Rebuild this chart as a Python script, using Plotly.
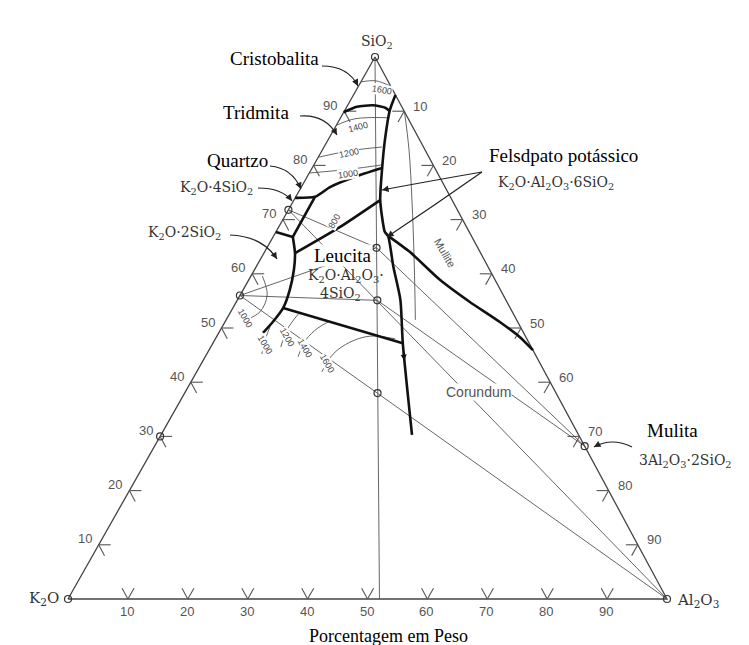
import plotly.graph_objects as go

W, H = 749, 645

# Pixel anchors of the triangle corners (K2O left, Al2O3 right, SiO2 apex)
LEFT_PX, RIGHT_PX, BASE_PX, APEX_PX, APEX_X_PX = 68, 667, 599, 57, 375
UX = (RIGHT_PX - LEFT_PX) / 100.0          # px per wt% along the base
UY = (BASE_PX - APEX_PX) / 100.0           # px per wt% SiO2 (height)
SKEW = (APEX_X_PX - LEFT_PX) / (RIGHT_PX - LEFT_PX)

# ---------------- data: compositions in wt % (SiO2, Al2O3) ----------------
POINT_SIO2 = [100, 0, 0, 71.8, 56.0, 30.0, 64.8, 55.1, 38.0, 28.2]
POINT_AL2O3 = [0, 0, 100, 0, 0, 0, 18.3, 23.4, 32.2, 71.8]

# liquidus field boundaries (heavy lines)
CRISTOBALITE_TRIDYMITE = [(89.8, 0), (90.8, 1.7), (91.1, 4.2), (90.6, 6.6), (90.0, 7.6)]
SILICA_MULLITE_LEUCITE = [(93.0, 7.0), (90.2, 7.5), (84.7, 9.5), (79.5, 11.7), (73.6, 14.4),
                          (67.7, 18.2), (67.0, 19.1), (61.3, 22.9), (55.2, 27.2),
                          (47.2, 31.7), (30.3, 41.9)]
QUARTZ_LIMIT = [(74.0, 0), (74.2, 3.2), (76.0, 4.8), (77.9, 8.0), (79.5, 11.7)]
K4_K2 = [(67.7, 0), (66.8, 3.3)]
K4_FELDSPAR = [(66.8, 3.3), (74.2, 3.2)]
K2_LEUCITE = [(66.8, 3.3), (63.8, 5.2), (60.7, 6.6), (57.0, 7.8), (53.7, 8.4),
              (51.1, 8.0), (49.1, 7.4)]
FELDSPAR_LEUCITE = [(63.8, 5.2), (68.6, 10.2), (73.6, 14.4)]
LEUCITE_KALIOPHILITE = [(53.7, 8.4), (47.2, 31.7)]
MULLITE_CORUNDUM = [(67.0, 19.1), (64.0, 24.3), (58.9, 31.9), (54.8, 39.0),
                    (51.1, 45.9), (48.3, 50.7), (45.9, 54.1)]
BOUNDARIES = [CRISTOBALITE_TRIDYMITE, SILICA_MULLITE_LEUCITE, QUARTZ_LIMIT, K4_K2,
              K4_FELDSPAR, K2_LEUCITE, FELDSPAR_LEUCITE, LEUCITE_KALIOPHILITE,
              MULLITE_CORUNDUM]

# falling-temperature arrow on a boundary: (tip, tail) compositions
BOUNDARY_ARROWS = [((44.0, 33.6), (45.8, 32.5))]

# composition joins (light lines)
JOINS = [
    [(100, 0), (0, 52.0)],          # SiO2 - K2O.Al2O3
    [(71.8, 0), (0, 100)],          # K2O.4SiO2 - Al2O3
    [(56.0, 0), (0, 100)],          # K2O.2SiO2 - Al2O3
    [(56.0, 0), (55.1, 23.4)],      # K2O.2SiO2 - leucite
    [(56.0, 0), (64.8, 18.3)],      # K2O.2SiO2 - K-feldspar
    [(71.8, 0), (64.8, 18.3)],      # K2O.4SiO2 - K-feldspar
    [(64.8, 18.3), (28.2, 71.8)],   # K-feldspar - mullite
    [(55.1, 23.4), (28.2, 71.8)],   # leucite - mullite
]

# isotherms (light lines)
ISOTHERMS = [
    [(95.4, 0), (95.6, 2.4), (94.6, 5.4)],
    [(87.4, 0), (88.6, 2.5), (88.8, 7.9)],
    [(81.5, 0), (82.7, 4.7), (83.4, 9.7)],
    [(78.6, 0), (79.3, 6.4), (80.1, 11.4)],
    [(89.9, 10.1), (82.8, 14.5), (73.6, 19.7), (62.6, 25.7), (51.5, 31.6)],
    [(59.6, 1.9), (56.1, 4.5), (53.0, 4.9), (51.5, 3.3)],
    [(45.2, 9.2), (48.3, 8.3), (50.2, 8.0)],
    [(46.5, 11.7), (49.6, 11.1), (52.6, 11.5)],
    [(44.7, 15.5), (47.8, 15.2), (50.0, 16.1), (51.1, 17.2)],
    [(41.9, 20.9), (45.2, 21.1), (47.4, 22.8), (48.5, 25.6), (48.0, 30.0)],
]
ISO_LABELS = ["1600", "1400", "1200", "1000", "800", "1000", "1000", "1200", "1400", "1600"]
ISO_LABEL_SIO2 = [94.0, 87.1, 82.3, 78.4, 69.7, 51.8, 46.9, 48.3, 46.3, 43.5]
ISO_LABEL_AL2O3 = [4.3, 3.8, 4.8, 6.6, 8.8, 3.0, 8.9, 11.8, 15.8, 20.9]
ISO_LABEL_ANGLE = [10, -15, -12, -8, -60, 60, 60, 60, 60, 60]

TICK_VALUES = [10, 20, 30, 40, 50, 60, 70, 80, 90]
TICK_LABELS = ["10", "20", "30", "40", "50", "60", "70", "80", "90"]
TICK_LEN = 2.0


def to_xy(pairs):
    xs, ys = [], []
    for p in pairs:
        if p is None:
            xs.append(None)
            ys.append(None)
        else:
            s, a = p
            xs.append(a + SKEW * s)
            ys.append(s)
    return xs, ys


def chain(list_of_lines):
    out = []
    for ln in list_of_lines:
        out.extend(ln)
        out.append(None)
    return out


def paper(px, py):
    return px / W, 1 - py / H


fig = go.Figure()

# triangle frame
fx, fy = to_xy([(0, 0), (0, 100), (100, 0), (0, 0)])
fig.add_trace(go.Scatter(x=fx, y=fy, mode="lines", line=dict(color="#444", width=1.3),
                         hoverinfo="skip"))

# ticks on the three sides
tick_segs = []
for t in TICK_VALUES:
    tick_segs += [(t, 0), (t, TICK_LEN), None, (t, 0), (t - TICK_LEN, TICK_LEN), None]
    s = 100 - t
    tick_segs += [(s, t), (s, t - TICK_LEN), None, (s, t), (s - TICK_LEN, t), None]
    tick_segs += [(0, t), (TICK_LEN, t), None, (0, t), (TICK_LEN, t - TICK_LEN), None]
tx, ty = to_xy(tick_segs)
fig.add_trace(go.Scatter(x=tx, y=ty, mode="lines", line=dict(color="#555", width=1.1),
                         hoverinfo="skip"))

# joins and isotherms
jx, jy = to_xy(chain(JOINS))
fig.add_trace(go.Scatter(x=jx, y=jy, mode="lines", line=dict(color="#555", width=0.9),
                         hoverinfo="skip"))
for iso in ISOTHERMS:
    ix, iy = to_xy(iso)
    fig.add_trace(go.Scatter(x=ix, y=iy, mode="lines", line=dict(color="#555", width=0.9,
                             shape="spline"), hoverinfo="skip"))

# field boundaries
for b in BOUNDARIES:
    bx, by = to_xy(b)
    fig.add_trace(go.Scatter(x=bx, y=by, mode="lines", line=dict(color="#111", width=2.6,
                             shape="spline", smoothing=0.6), hoverinfo="skip"))

# compound points
px_, py_ = to_xy(list(zip(POINT_SIO2, POINT_AL2O3)))
fig.add_trace(go.Scatter(x=px_, y=py_, mode="markers",
                         marker=dict(symbol="circle-open", size=7, color="#333",
                                     line=dict(width=1.2)), hoverinfo="skip"))

ann = []
SANS = "Liberation Sans"
SERIF = "Liberation Serif"
FORMULA = "DejaVu Serif"
# tick labels
for t, lab in zip(TICK_VALUES, TICK_LABELS):
    for (s, a), xs, ys in (((t, 0), -14, 6), ((100 - t, t), 16, 5), ((0, t), -1, -12)):
        x, y = to_xy([(s, a)])
        ann.append(dict(x=x[0], y=y[0], text=lab, showarrow=False, xshift=xs, yshift=ys,
                        xanchor="center", yanchor="middle",
                        font=dict(family=SANS, size=13, color="#555")))

# isotherm temperature labels
for lab, s, a, ang in zip(ISO_LABELS, ISO_LABEL_SIO2, ISO_LABEL_AL2O3, ISO_LABEL_ANGLE):
    x, y = to_xy([(s, a)])
    ann.append(dict(x=x[0], y=y[0], text=lab, showarrow=False, textangle=ang,
                    bgcolor="white", borderpad=0, xanchor="center", yanchor="middle",
                    font=dict(family=SANS, size=9, color="#444")))

# arrowheads on boundaries
for tip, tail in BOUNDARY_ARROWS:
    (x1,), (y1,) = to_xy([tip])
    (x0,), (y0,) = to_xy([tail])
    ann.append(dict(x=x1, y=y1, ax=x0, ay=y0, axref="x", ayref="y", text="",
                    showarrow=True, arrowhead=2, arrowsize=0.8, arrowwidth=1.5,
                    arrowcolor="#111"))


def label(px, py, text, size=19, color="#000", bg=None, family=SERIF, angle=0):
    x, y = paper(px, py)
    d = dict(x=x, y=y, xref="paper", yref="paper", text=text, showarrow=False,
             xanchor="center", yanchor="middle", textangle=angle,
             font=dict(family=family, size=size, color=color))
    if bg:
        d.update(bgcolor=bg, borderpad=0)
    ann.append(d)


label(274, 58, "Cristobalita")
label(256, 113, "Tridmita")
label(237, 160, "Quartzo")
label(216, 188, "K<sub>2</sub>O·4SiO<sub>2</sub>", size=14, color="#333", family=FORMULA)
label(184, 233, "K<sub>2</sub>O·2SiO<sub>2</sub>", size=14, color="#333", family=FORMULA)
label(563, 155, "Felsdpato potássico")
label(556, 183, "K<sub>2</sub>O·Al<sub>2</sub>O<sub>3</sub>·6SiO<sub>2</sub>", size=14,
      color="#333", family=FORMULA)
label(343, 255, "Leucita", bg="white")
label(346, 276, "K<sub>2</sub>O·Al<sub>2</sub>O<sub>3</sub>·", size=14, color="#333",
      family=FORMULA)
label(340, 294, "4SiO<sub>2</sub>", size=14, color="#333", family=FORMULA)
label(672, 430, "Mulita", bg="white")
label(685, 461, "3Al<sub>2</sub>O<sub>3</sub>·2SiO<sub>2</sub>", size=14, color="#333",
      family=FORMULA)
label(478, 392, "Corundum", size=14, color="#555", bg="white", family=SANS)
label(445, 253, "Mullite", size=11, color="#555", family=SANS, angle=60)
label(377, 42, "SiO<sub>2</sub>", size=14, color="#333", family=FORMULA)
label(44, 598, "K<sub>2</sub>O", size=15, color="#333", family=FORMULA)
label(698, 600, "Al<sub>2</sub>O<sub>3</sub>", size=15, color="#333", family=FORMULA)
label(388, 636, "Porcentagem em Peso", size=18)

# curved pointer arrows (start, control, end in px)
ARROWS = [
    ((322, 66), (348, 66), (358, 86)),
    ((300, 116), (325, 114), (337, 135)),
    ((270, 166), (292, 168), (301, 189)),
    ((258, 188), (282, 188), (292, 201)),
    ((230, 235), (262, 236), (277, 259)),
    ((632, 447), (612, 437), (594, 447)),
    ((482, 172), (430, 181), (382, 190)),
    ((482, 172), (435, 205), (387, 237)),
]
shapes = []
for (s0, c0, e0) in ARROWS:
    x0, y0 = paper(*s0)
    cx, cy = paper(*c0)
    x1, y1 = paper(*e0)
    shapes.append(dict(type="path", xref="paper", yref="paper",
                       path=f"M {x0},{y0} Q {cx},{cy} {x1},{y1}",
                       line=dict(color="#222", width=1.2)))
    dx, dy = c0[0] - e0[0], c0[1] - e0[1]
    n = (dx * dx + dy * dy) ** 0.5
    ann.append(dict(x=x1, y=y1, xref="paper", yref="paper", text="", showarrow=True,
                    ax=dx / n * 8, ay=dy / n * 8, arrowhead=2, arrowsize=1.1,
                    arrowwidth=1.2, arrowcolor="#222"))

fig.update_layout(
    width=W, height=H, margin=dict(l=0, r=0, t=0, b=0),
    paper_bgcolor="white", plot_bgcolor="white", showlegend=False,
    xaxis=dict(range=[-LEFT_PX / UX, (W - LEFT_PX) / UX], visible=False, fixedrange=True),
    yaxis=dict(range=[-(H - BASE_PX) / UY, BASE_PX / UY], visible=False, fixedrange=True),
    annotations=ann, shapes=shapes,
)

fig.write_html("out.html")
